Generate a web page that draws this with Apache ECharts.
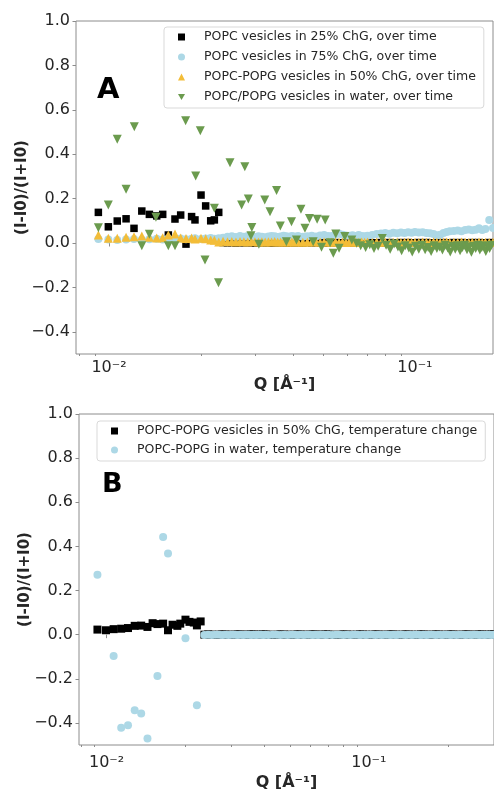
<!DOCTYPE html>
<html>
<head>
<meta charset="utf-8">
<script src="https://cdn.jsdelivr.net/npm/echarts@6.0.0/dist/echarts.min.js"></script>
<style>
  html, body { margin: 0; padding: 0; background: #fff; }
  #chart { width: 494px; height: 792px; }
</style>
</head>
<body>
<div id="chart"></div>
<script>
// Q grid: sparse low-q part, then the fine part past q = 0.023
const qLow = [0.00923, 0.00995, 0.01064, 0.01137, 0.01207, 0.0128, 0.01355, 0.01432, 0.01498, 0.01563,
  0.01643, 0.01715, 0.01785, 0.01862, 0.0191, 0.01999, 0.0207, 0.0215, 0.0221, 0.02284];
const qBand = [0.0236, 0.0244, 0.0252, 0.0260, 0.0268, 0.0276, 0.0284, 0.0292, 0.0300, 0.0308,
  0.0316, 0.0324, 0.0332, 0.0340, 0.0348, 0.0356, 0.0364, 0.0372, 0.0380, 0.0388,
  0.0396, 0.0404, 0.0415, 0.0430, 0.0445, 0.0460, 0.0475, 0.0490, 0.0505, 0.0520,
  0.0535, 0.0550, 0.0565, 0.0580, 0.0595, 0.0610, 0.0625, 0.0640, 0.0655, 0.0670,
  0.0685, 0.0700, 0.0725, 0.0750, 0.0775, 0.0800, 0.0825, 0.0850, 0.0875, 0.0900,
  0.0925, 0.0950, 0.0975, 0.1000, 0.1030, 0.1060, 0.1090, 0.1120, 0.1150, 0.1180,
  0.1210, 0.1240, 0.1270, 0.1300, 0.1340, 0.1380, 0.1420, 0.1460, 0.1500, 0.1540,
  0.1580, 0.1620, 0.1660, 0.1700, 0.1750, 0.1800, 0.1850, 0.1900, 0.1950, 0.2000,
  0.2050, 0.2100, 0.2160, 0.2220, 0.2280, 0.2340, 0.2400, 0.2460, 0.2520, 0.2580,
  0.2640, 0.2700, 0.2760, 0.2820, 0.2880, 0.2940, 0.3000];
const qBandA = qBand.filter((q) => q <= 0.18); // panel A stops at 0.18

// panel A
const black25Low = [0.138, 0.073, 0.099, 0.109, 0.066, 0.144, 0.129, 0.122, 0.129, 0.036,
  0.108, 0.126, -0.005, 0.119, 0.104, 0.216, 0.167, 0.100, 0.104, 0.138];
const black25Band = [0.002, 0.001, 0.002, 0.000, 0.002, 0.001, 0.002, 0.001, 0.000,
  0.002, 0.001, 0.002, 0.001, 0.000, 0.002, 0.001, 0.002, 0.001, 0.000, 0.002, 0.001, 0.002,
  0.001, 0.000, 0.002, 0.001, 0.002, 0.001, 0.000, 0.002, 0.001,
  0.002, 0.001, 0.000, 0.002, 0.001, 0.002, 0.001, 0.000, 0.002, 0.001, 0.002,
  0.001, 0.000, 0.002, 0.001, 0.002, 0.001, 0.000, 0.002, 0.001, 0.002, 0.001, 0.000,
  0.002, 0.001, 0.002, 0.001, 0.000, 0.002, 0.001, 0.002, 0.001, 0.000,
  0.002, 0.001, 0.002, 0.001, 0.000, 0.002, 0.001, 0.002, 0.001, 0.000, 0.002, 0.001];
const blue75Low = [0.018, 0.016, 0.014, 0.016, 0.018, 0.015, 0.017, 0.019, 0.016, 0.020,
  0.018, 0.020, 0.017, 0.019, 0.021, 0.018, 0.020, 0.022, 0.019, 0.021];
const blue75Band = [0.024, 0.028, 0.030, 0.027, 0.031, 0.028, 0.032, 0.029, 0.027,
  0.030, 0.028, 0.026, 0.029, 0.031, 0.030, 0.027, 0.029, 0.033, 0.030, 0.028, 0.031, 0.029,
  0.032, 0.028, 0.030, 0.033, 0.029, 0.034, 0.036, 0.032, 0.031,
  0.040, 0.042, 0.037, 0.034, 0.033, 0.035, 0.032, 0.036, 0.031, 0.030, 0.033,
  0.036, 0.041, 0.043, 0.045, 0.042, 0.046, 0.044, 0.047, 0.045, 0.048, 0.046, 0.049,
  0.047, 0.048, 0.045, 0.044, 0.040, 0.035, 0.037, 0.045, 0.050, 0.053,
  0.054, 0.056, 0.053, 0.058, 0.061, 0.057, 0.060, 0.066, 0.058, 0.063, 0.104, 0.068];
const orange50Low = [0.036, 0.021, 0.021, 0.026, 0.028, 0.032, 0.026, 0.022, 0.024, 0.036,
  0.040, 0.022, 0.020, 0.022, 0.018, 0.021, 0.019, 0.014, 0.012, 0.004];
const orange50Band = [0.008, 0.006, 0.007, 0.005, 0.007, 0.006, 0.005, 0.007, 0.006,
  0.005, 0.006, 0.004, 0.006, 0.005, 0.007, 0.004, 0.005, 0.006, 0.004, 0.005, 0.006, 0.004,
  0.005, 0.003, 0.005, 0.004, 0.006, 0.003, 0.004, 0.005, 0.003,
  0.004, 0.003, 0.005, 0.002, 0.004, 0.003, 0.005, 0.002, 0.004, 0.003, 0.004,
  0.002, 0.004, 0.003, 0.005, 0.002, 0.003, 0.004, 0.002, 0.003, 0.004, 0.002, 0.003,
  0.002, 0.004, 0.003, 0.002, 0.004, 0.003, 0.002, 0.003, 0.004, 0.002,
  0.003, 0.002, 0.004, 0.003, 0.002, 0.003, 0.001, 0.004, 0.002, 0.003, 0.002, 0.003];
const qGreen = [0.00923, 0.00995, 0.01064, 0.01137, 0.0121, 0.0128, 0.01355, 0.01424, 0.01563, 0.01643,
  0.0178, 0.0192, 0.01988, 0.0206, 0.0221, 0.0228, 0.02486, 0.02714, 0.0278, 0.02853,
  0.0291, 0.0293, 0.0309, 0.0323, 0.0336, 0.0353, 0.0363, 0.0380, 0.0395, 0.0410,
  0.0424, 0.0437, 0.0452, 0.0465, 0.0479, 0.0495, 0.0509, 0.0528, 0.0541, 0.0551,
  0.0565, 0.0590, 0.0622, 0.0645,
  0.0665, 0.0690, 0.0712, 0.0735, 0.0758, 0.0782, 0.0805, 0.0830, 0.0855, 0.0880,
  0.0905, 0.0930, 0.0955, 0.0980, 0.1005, 0.1030, 0.1055, 0.1080, 0.1105, 0.1130,
  0.1155, 0.1180, 0.1205, 0.1230, 0.1255, 0.1280, 0.1305, 0.1330, 0.1355, 0.1380,
  0.1405, 0.1430, 0.1455, 0.1480, 0.1505, 0.1530, 0.1555, 0.1580, 0.1605, 0.1630,
  0.1655, 0.1680, 0.1705, 0.1730, 0.1755, 0.1780];
const greenWater = [0.069, 0.171, 0.467, 0.242, 0.524, -0.012, 0.039, 0.116, -0.012, -0.012,
  0.551, 0.302, 0.506, -0.077, 0.156, -0.179, 0.362, 0.171, 0.344, 0.198,
  0.033, 0.070, -0.006, 0.194, 0.141, 0.236, 0.077, 0.006, 0.096, 0.014,
  0.152, 0.066, 0.110, 0.006, 0.107, -0.019, 0.104, 0.001, -0.046, 0.041,
  -0.024, 0.029, 0.014, -0.001,
  -0.012, -0.020, -0.008, -0.025, -0.015, 0.020, -0.010, -0.028, -0.005, -0.018,
  -0.035, -0.012, -0.022, -0.040, -0.015, -0.028, -0.010, -0.030, -0.020, -0.038,
  -0.012, -0.025, -0.018, -0.032, -0.010, -0.022, -0.040, -0.015, -0.028, -0.012,
  -0.035, -0.020, -0.010, -0.030, -0.018, -0.042, -0.015, -0.025, -0.010, -0.032,
  -0.020, -0.012, -0.038, -0.018, -0.025, -0.010];

// panel B
const blackTempLow = [0.023, 0.020, 0.025, 0.027, 0.030, 0.040, 0.041, 0.035, 0.052, 0.048,
  0.050, 0.020, 0.045, 0.040, 0.050, 0.068, 0.058, 0.055, 0.042, 0.060];
const blackTempBand = [0.000, 0.001, 0.000, -0.001, 0.000, 0.001, 0.000, 0.000, -0.001, 0.000,
  0.001, 0.000, 0.000, -0.001, 0.000, 0.001, 0.000, 0.000, -0.001, 0.000,
  0.001, 0.000, 0.000, -0.001, 0.000, 0.001, 0.000, 0.000, -0.001, 0.000,
  0.001, 0.000, 0.000, -0.001, 0.000, 0.001, 0.000, 0.000, -0.001, 0.000,
  0.001, 0.000, 0.000, -0.001, 0.000, 0.001, 0.000, 0.000, -0.001, 0.000,
  0.001, 0.000, 0.000, -0.001, 0.000, 0.001, 0.000, 0.000, -0.001, 0.000,
  0.001, 0.000, 0.000, -0.001, 0.000, 0.001, 0.000, 0.000, -0.001, 0.000,
  0.001, 0.000, 0.000, -0.001, 0.000, 0.001, 0.000, 0.000, -0.001, 0.000,
  0.001, 0.000, 0.000, -0.001, 0.000, 0.001, 0.000, 0.000, -0.001, 0.000,
  0.001, 0.000, 0.000, -0.001, 0.000, 0.001, 0.000];
const qBlueTempLow = [0.00923, 0.01064, 0.01137, 0.01207, 0.0128, 0.01355, 0.01432, 0.01563, 0.01643, 0.01715, 0.01999, 0.0221];
const blueTempLow = [0.271, -0.097, -0.422, -0.410, -0.343, -0.357, -0.470, -0.187, 0.443, 0.368, -0.016, -0.320];
const blueTempBand = [-0.001, 0.000, -0.001, 0.000, 0.000, -0.001, 0.000, -0.001, 0.000, 0.000,
  -0.001, 0.000, -0.001, 0.000, 0.000, -0.001, 0.000, -0.001, 0.000, 0.000,
  -0.001, 0.000, -0.001, 0.000, 0.000, -0.001, 0.000, -0.001, 0.000, 0.000,
  -0.001, 0.000, -0.001, 0.000, 0.000, -0.001, 0.000, -0.001, 0.000, 0.000,
  -0.001, 0.000, -0.001, 0.000, 0.000, -0.001, 0.000, -0.001, 0.000, 0.000,
  -0.001, 0.000, -0.001, 0.000, 0.000, -0.001, 0.000, -0.001, 0.000, 0.000,
  -0.001, 0.000, -0.001, 0.000, 0.000, -0.001, 0.000, -0.001, 0.000, 0.000,
  -0.001, 0.000, -0.001, 0.000, 0.000, -0.001, 0.000, -0.001, 0.000, 0.000,
  -0.001, 0.000, -0.001, 0.000, 0.000, -0.001, 0.000, -0.001, 0.000, 0.000,
  -0.001, 0.000, -0.001, 0.000, 0.000, -0.001, 0.000];

const yTicks = [-0.4, -0.2, 0.0, 0.2, 0.4, 0.6, 0.8, 1.0];
const xMajor = [0.01, 0.1];
const xMinor = [0.008, 0.009, 0.02, 0.03, 0.04, 0.05, 0.06, 0.07, 0.08, 0.09, 0.2, 0.3];

const namesA = [
  "POPC vesicles in 25% ChG, over time",
  "POPC vesicles in 75% ChG, over time",
  "POPC-POPG vesicles in 50% ChG, over time",
  "POPC/POPG vesicles in water, over time"
];
const namesB = [
  "POPC-POPG vesicles in 50% ChG, temperature change",
  "POPC-POPG in water, temperature change"
];

const FONT = "DejaVu Sans";
const GREY = "#8c8c8c";
const TXT = "#262626";
const BLUE = "#add8e6";
const ORANGE = "#f3bd38";
const GREEN = "#6b9b4e";
const DOWN = "path://M0,0L10,0L5,8.66Z";

const pairs = (xs, ys) => xs.map((x, i) => [x, ys[i]]);

const chart = echarts.init(document.getElementById("chart"));

function mainX(grid, min, max, margin, gap) {
  return {
    type: "log", logBase: 10, gridIndex: grid, min: min, max: max, position: "bottom",
    axisLine: { show: false },
    axisTick: { customValues: xMajor, length: 3.5, lineStyle: { color: GREY } },
    axisLabel: {
      customValues: xMajor, margin: margin, fontFamily: FONT, fontSize: 16, color: TXT,
      formatter: (v) => (v < 0.05 ? "10\u207B\u00B2" : "10\u207B\u00B9")
    },
    splitLine: { show: false },
    name: "Q [\u00C5\u207B\u00B9]", nameLocation: "middle", nameGap: gap, nameMoveOverlap: false,
    nameTextStyle: { fontFamily: FONT, fontWeight: "bold", fontSize: 16, color: TXT }
  };
}
function minorX(grid, min, max) {
  return {
    type: "log", logBase: 10, gridIndex: grid, min: min, max: max, position: "bottom",
    axisLine: { show: false }, axisLabel: { show: false }, splitLine: { show: false },
    axisTick: { customValues: xMinor, length: 2, lineStyle: { color: GREY } }
  };
}
function yAx(grid) {
  return {
    type: "value", gridIndex: grid, min: -0.5, max: 1.0,
    axisLine: { show: false },
    axisTick: { customValues: yTicks, length: 3.5, lineStyle: { color: GREY } },
    axisLabel: {
      customValues: yTicks, margin: 6, fontFamily: FONT, fontSize: 16, color: TXT,
      formatter: (v) => v.toFixed(1).replace("-", "\u2212")
    },
    splitLine: { show: false },
    name: "(I-I0)/(I+I0)", nameLocation: "middle", nameGap: 46, nameMoveOverlap: false,
    nameTextStyle: { fontFamily: FONT, fontWeight: "bold", fontSize: 15, color: TXT }
  };
}
function legendBox(names, left, top, gap) {
  return {
    data: names, orient: "vertical", left: left, top: top, selectedMode: false,
    itemWidth: 7, itemHeight: 7, itemGap: gap,
    padding: [3, 8, 4, 14],
    backgroundColor: "rgba(255,255,255,0.8)", borderColor: "#d9d9d9", borderWidth: 1, borderRadius: 3,
    textStyle: { fontFamily: FONT, fontSize: 12.5, color: TXT, lineHeight: 14, padding: [0, 0, 0, 14] }
  };
}
function dots(name, xi, yi, symbol, size, color, data) {
  return { name: name, type: "scatter", xAxisIndex: xi, yAxisIndex: yi, symbol: symbol, symbolSize: size,
    itemStyle: { color: color, opacity: 1 }, data: data };
}

const option = {
  animation: false,
  backgroundColor: "#fff",
  grid: [
    { left: 76, top: 21, width: 417, height: 333, show: true, borderColor: GREY, borderWidth: 1 },
    { left: 79, top: 414, width: 416, height: 332, show: true, borderColor: GREY, borderWidth: 1 }
  ],
  xAxis: [mainX(0, 0.0078, 0.18, 6, 23), minorX(0, 0.0078, 0.18), mainX(1, 0.00785, 0.3, 10, 30), minorX(1, 0.00785, 0.3)],
  yAxis: [yAx(0), yAx(1)],
  legend: [legendBox(namesA, 164, 27, 6), legendBox(namesB, 97, 421, 5)],
  graphic: [
    { type: "text", left: 97, top: 76, style: { text: "A", font: 'bold 29px "DejaVu Sans"', fill: "#000" } },
    { type: "text", left: 102, top: 471, style: { text: "B", font: 'bold 27px "DejaVu Sans"', fill: "#000" } }
  ],
  series: [
    dots(namesA[0], 0, 0, "rect", 7.5, "#000", pairs(qLow.concat(qBandA), black25Low.concat(black25Band))),
    dots(namesA[1], 0, 0, "circle", 8, BLUE, pairs(qLow.concat(qBandA), blue75Low.concat(blue75Band))),
    dots(namesA[2], 0, 0, "triangle", 9, ORANGE, pairs(qLow.concat(qBandA), orange50Low.concat(orange50Band))),
    dots(namesA[3], 0, 0, DOWN, 9, GREEN, pairs(qGreen, greenWater)),
    dots(namesB[0], 2, 1, "rect", 8, "#000", pairs(qLow.concat(qBand), blackTempLow.concat(blackTempBand))),
    dots(namesB[1], 2, 1, "circle", 8, BLUE, pairs(qBlueTempLow.concat(qBand), blueTempLow.concat(blueTempBand)))
  ]
};

chart.setOption(option);
window.addEventListener("resize", () => chart.resize());
</script>
</body>
</html>
